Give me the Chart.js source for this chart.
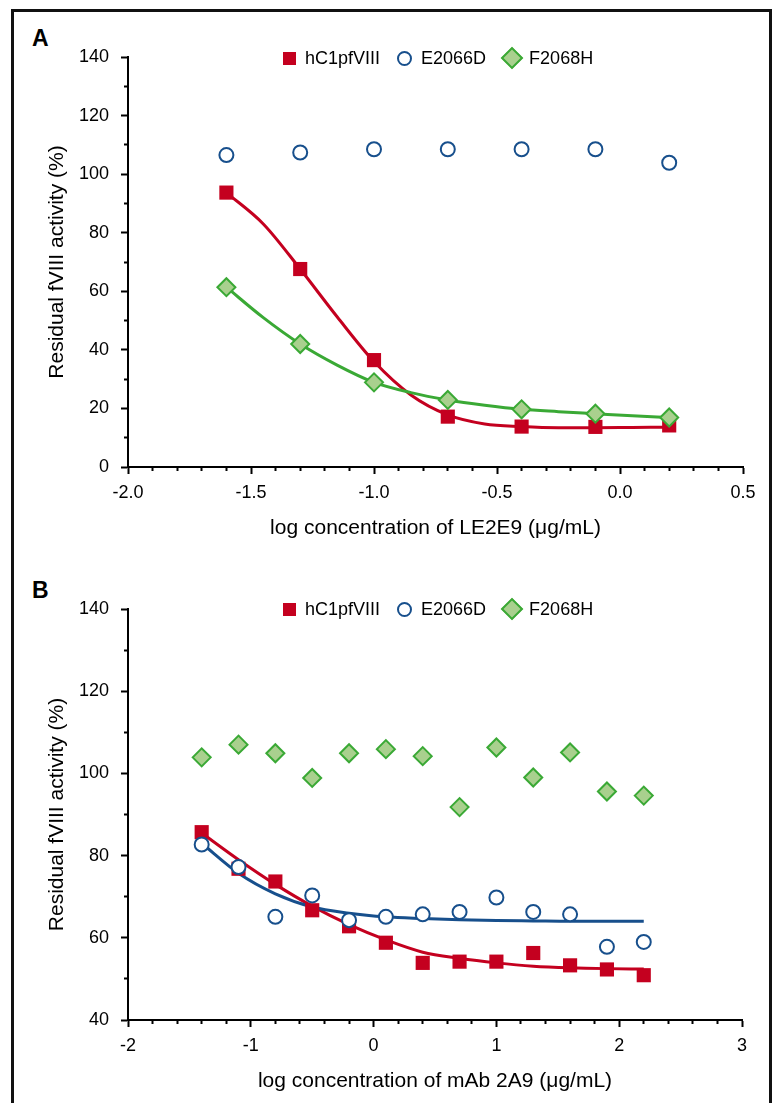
<!DOCTYPE html>
<html>
<head>
<meta charset="utf-8">
<script src="https://cdn.jsdelivr.net/npm/chart.js@4.4.1/dist/chart.umd.min.js"></script>
<style>
  html, body { margin: 0; padding: 0; background: #fff; }
  body { position: relative; width: 774px; height: 1103px; overflow: hidden;
         font-family: "Liberation Sans", Arial, Helvetica, sans-serif; color: #000; }
  .frame { position: absolute; left: 11px; top: 9px; width: 761px; height: 1200px;
           border: 3px solid #111; box-sizing: border-box; }
  .panel { position: absolute; left: 0; width: 774px; }
  .letter { position: absolute; left: 32px; font-weight: bold; font-size: 23px; line-height: 23px; }
  .legend { position: absolute; left: 283px; height: 22px; display: flex; align-items: center;
            font-size: 18px; line-height: 22px; white-space: nowrap; }
  .sq { width: 13px; height: 13px; background: #c4001f; margin-right: 9px; }
  .ci { width: 11px; height: 11px; border: 2px solid #174f8c; border-radius: 50%; margin-left: 17px; margin-right: 9px; }
  .di { width: 22px; height: 22px; margin-left: 15px; margin-right: 6px; position: relative; }
  .di span { position: absolute; left: 3px; top: 3px; width: 12px; height: 12px; background: #a9d08e;
             border: 2px solid #3aa935; transform: rotate(45deg); }
</style>
</head>
<body>
<div class="frame"></div>

<div class="letter" style="top:27px">A</div>
<div class="panel" style="top:0; height:560px"><canvas id="chartA" width="774" height="560"></canvas></div>
<div class="legend" style="top:47px">
  <div class="sq"></div><span>hC1pfVIII</span>
  <div class="ci"></div><span>E2066D</span>
  <div class="di"><span></span></div><span>F2068H</span>
</div>

<div class="letter" style="top:579px">B</div>
<div class="panel" style="top:560px; height:543px"><canvas id="chartB" width="774" height="543"></canvas></div>
<div class="legend" style="top:598px">
  <div class="sq"></div><span>hC1pfVIII</span>
  <div class="ci"></div><span>E2066D</span>
  <div class="di"><span></span></div><span>F2068H</span>
</div>

<script>
// panel A: LE2E9
var xA = [-1.6, -1.3, -1.0, -0.7, -0.4, -0.1, 0.2];
var hC1A = [93.7, 67.6, 36.5, 17.2, 13.8, 13.7, 14.2];
var e2066dA = [106.5, 107.4, 108.5, 108.5, 108.5, 108.5, 103.9];
var f2068hA = [61.4, 42.0, 28.9, 22.9, 19.7, 18.2, 16.9];
// fitted curves of panel A
var xFitA = [-1.6, -1.45, -1.3, -1.15, -1.0, -0.85, -0.7, -0.55, -0.4, -0.25, -0.1, 0.05, 0.2];
var hC1FitA = [93.7, 83.0, 67.6, 51.3, 36.0, 24.6, 17.8, 14.7, 13.8, 13.4, 13.4, 13.5, 13.6];
var f2068hFitA = [61.4, 51.0, 42.0, 34.8, 28.9, 25.4, 22.9, 21.1, 19.7, 18.9, 18.2, 17.5, 16.9];

// panel B: mAb 2A9
var xB = [-1.4, -1.1, -0.8, -0.5, -0.2, 0.1, 0.4, 0.7, 1.0, 1.3, 1.6, 1.9, 2.2];
var hC1B = [85.7, 76.8, 73.7, 66.7, 62.8, 58.8, 53.9, 54.2, 54.2, 56.3, 53.3, 52.3, 50.9];
var e2066dB = [82.7, 77.2, 65.1, 70.3, 64.3, 65.1, 65.7, 66.3, 69.8, 66.3, 65.7, 57.8, 59.0];
var f2068hB = [103.9, 107.0, 104.9, 98.9, 104.9, 105.9, 104.2, 91.8, 106.3, 99.0, 105.1, 95.6, 94.6];
// fitted curves of panel B at the same x
var hC1FitB = [85.5, 79.0, 73.0, 67.7, 63.2, 59.5, 56.5, 55.0, 53.9, 53.1, 52.7, 52.5, 52.4];
var e2066dFitB = [83.0, 75.7, 70.7, 67.5, 66.0, 65.1, 64.7, 64.4, 64.2, 64.1, 64.0, 64.0, 64.0];

var titleY = 'Residual fVIII activity (%)';
var titleXA = 'log concentration of LE2E9 (\u03bcg/mL)';
var titleXB = 'log concentration of mAb 2A9 (\u03bcg/mL)';

var RED = '#c4001f', BLUE = '#174f8c', GREEN = '#3aa935', GREEN_FILL = '#a9d08e';
var FONT = '"Liberation Sans", Arial, Helvetica, sans-serif';

Chart.defaults.font.family = FONT;
Chart.defaults.color = '#000';

function pts(xs, ys) {
  return xs.map(function (x, i) { return { x: x, y: ys[i] }; });
}

function isMajor(v, every) {
  var r = v / every;
  return Math.abs(r - Math.round(r)) < 1e-6;
}

function xAxis(min, max, step, every, decimals, title) {
  return {
    type: 'linear', min: min, max: max,
    afterFit: function (s) { s.height = 78; },
    ticks: {
      stepSize: step, autoSkip: false, maxRotation: 0, padding: 8, color: '#000',
      font: { size: 18 },
      callback: function (v) { return isMajor(v, every) ? Number(v).toFixed(decimals) : ''; }
    },
    grid: {
      drawOnChartArea: false, tickLength: 7, tickColor: '#000', tickWidth: 2,
      tickBorderDash: function (c) { return (c.tick && !isMajor(c.tick.value, every)) ? [3, 30] : []; }
    },
    border: { color: '#000', width: 2 },
    title: { display: true, text: title, color: '#000', font: { size: 21 }, padding: { top: 4, bottom: 4 } }
  };
}

function yAxis(min, max) {
  return {
    type: 'linear', min: min, max: max,
    afterFit: function (s) { s.width = 128; },
    ticks: {
      stepSize: 10, autoSkip: false, padding: 12, color: '#000',
      font: { size: 18 },
      callback: function (v) { return isMajor(v, 20) ? String(v) : ''; }
    },
    grid: {
      drawOnChartArea: false, tickLength: 7, tickColor: '#000', tickWidth: 2,
      tickBorderDash: function (c) { return (c.tick && !isMajor(c.tick.value, 20)) ? [0, 3, 4, 30] : []; }
    },
    border: { color: '#000', width: 2 },
    title: { display: true, text: titleY, color: '#000', font: { size: 21 }, padding: { top: 45, bottom: 4 } }
  };
}

function squares(label, data, order) {
  return { label: label, data: data, order: order, showLine: false,
           pointStyle: 'rect', pointRadius: 10, pointHoverRadius: 10,
           pointBackgroundColor: RED, pointBorderColor: RED, pointBorderWidth: 0 };
}
function circles(label, data, order) {
  return { label: label, data: data, order: order, showLine: false,
           pointStyle: 'circle', pointRadius: 7, pointHoverRadius: 7,
           pointBackgroundColor: '#fff', pointBorderColor: BLUE, pointBorderWidth: 2 };
}
function diamonds(label, data, order) {
  return { label: label, data: data, order: order, showLine: false,
           pointStyle: 'rectRot', pointRadius: 9, pointHoverRadius: 9,
           pointBackgroundColor: GREEN_FILL, pointBorderColor: GREEN, pointBorderWidth: 2 };
}
function fit(data, color, order) {
  return { label: 'fit', data: data, pointRadius: 0, pointHoverRadius: 0, borderColor: color, borderWidth: 3,
           showLine: true, cubicInterpolationMode: 'monotone', order: order };
}

function baseOptions(pad, xs, ys) {
  return {
    responsive: false, animation: false, devicePixelRatio: 1,
    layout: { padding: pad },
    plugins: { legend: { display: false }, tooltip: { enabled: false } },
    scales: { x: xs, y: ys }
  };
}

new Chart(document.getElementById('chartA'), {
  type: 'scatter',
  data: {
    datasets: [
      squares('hC1pfVIII', pts(xA, hC1A), 4),
      circles('E2066D', pts(xA, e2066dA), 2),
      diamonds('F2068H', pts(xA, f2068hA), 1),
      fit(pts(xFitA, hC1FitA), RED, 5),
      fit(pts(xFitA, f2068hFitA), GREEN, 3)
    ]
  },
  options: baseOptions({ left: 0, top: 57, right: 31, bottom: 15 },
    xAxis(-2.0, 0.5, 0.1, 0.5, 1, titleXA), yAxis(0, 140))
});

new Chart(document.getElementById('chartB'), {
  type: 'scatter',
  data: {
    datasets: [
      squares('hC1pfVIII', pts(xB, hC1B), 3),
      circles('E2066D', pts(xB, e2066dB), 2),
      diamonds('F2068H', pts(xB, f2068hB), 1),
      fit(pts(xB, hC1FitB), RED, 5),
      fit(pts(xB, e2066dFitB), BLUE, 4)
    ]
  },
  options: baseOptions({ left: 0, top: 49, right: 32, bottom: 5 },
    xAxis(-2, 3, 0.2, 1, 0, titleXB), yAxis(40, 140))
});
</script>
</body>
</html>
